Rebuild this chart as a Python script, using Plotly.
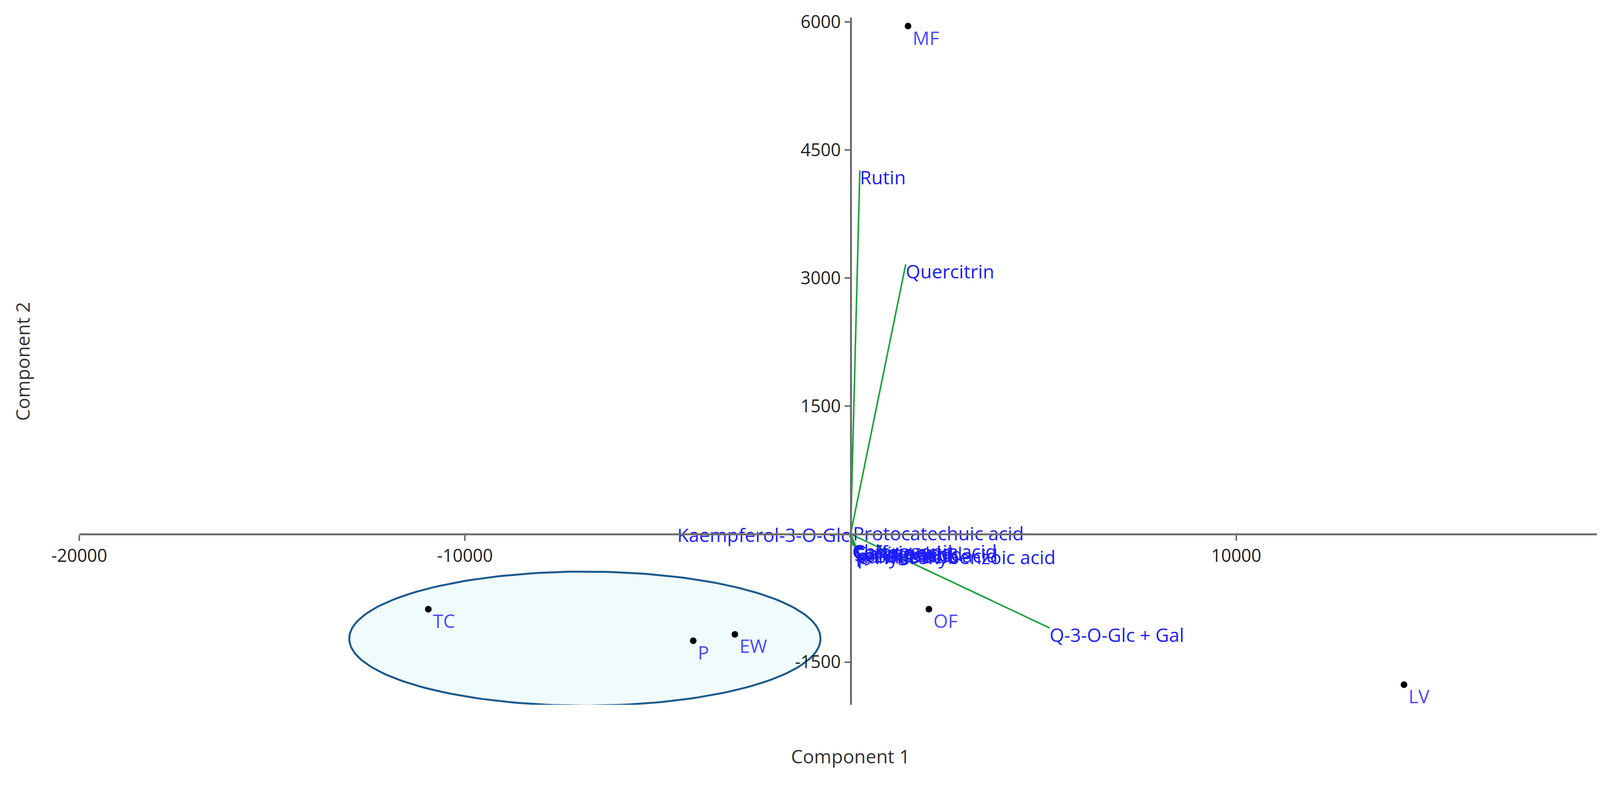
import plotly.graph_objects as go
import numpy as np

# Sample scores
samples = ["MF", "TC", "P", "EW", "OF", "LV"]
sx = [1490, -10950, -4080, -3000, 2030, 14350]
sy = [5950, -880, -1250, -1175, -880, -1765]

# Loadings (biplot vectors)
load_names = ["Rutin", "Quercitrin", "Q-3-O-Glc + Gal", "Kaempferol-3-O-Glc", "Protocatechuic acid",
               "Chlorogenic acid", "Caffeic acid", "Gallic acid", "Syringic acid",
               "Ferulic acid", "p-Coumaric acid", "Vanillic acid", "p-Hydroxybenzoic acid"]
lx = [240, 1430, 5160, -20, 60, 40, 60, 80, 100, 120, 140, 160, 180]
ly = [4260, 3160, -1100, -40, -20, -120, -130, -140, -150, -160, -170, -180, -190]

# Group ellipse
ell_cx, ell_cy, ell_rx, ell_ry = -6890, -1225, 6110, 785

FONT = "Open Sans"
fig = go.Figure()

t = np.linspace(0, 2*np.pi, 200)
fig.add_trace(go.Scatter(x=ell_cx + ell_rx*np.cos(t), y=ell_cy + ell_ry*np.sin(t), mode="lines",
                         fill="toself", fillcolor="#f0fbfb", line=dict(color="#1d5a8c", width=5),
                         hoverinfo="skip", showlegend=False))

for n, x, y in zip(load_names, lx, ly):
    fig.add_trace(go.Scatter(x=[0, x], y=[0, y], mode="lines", line=dict(color="#1aa33a", width=4),
                             showlegend=False, hoverinfo="skip"))

pos = ["bottom right"] * len(load_names)
pos[load_names.index("Kaempferol-3-O-Glc")] = "middle left"
pos[load_names.index("Protocatechuic acid")] = "middle right"
pos[load_names.index("Rutin")] = "bottom right"
pos[load_names.index("Quercitrin")] = "bottom right"
fig.add_trace(go.Scatter(x=lx, y=ly, mode="text", text=load_names, textposition=pos,
                         textfont=dict(family=FONT, size=48, color="#1c1cff"), showlegend=False))

fig.add_trace(go.Scatter(x=sx, y=sy, mode="markers+text", text=samples, textposition="bottom right",
                         marker=dict(color="black", size=17),
                         textfont=dict(family=FONT, size=48, color="#4a4aff"), showlegend=False))

yr = [-2000, 6050]
fig.update_layout(
    width=4199, height=2013, paper_bgcolor="white", plot_bgcolor="white",
    margin=dict(l=195, r=55, t=37, b=216),
    xaxis=dict(range=[-20000, 20000], tickvals=[-20000, -10000, 10000],
               ticktext=["-20000", "-10000", "10000"], showgrid=False, zeroline=False,
               showline=True, linecolor="#6e6e6e", linewidth=5, ticks="outside", ticklen=14, tickwidth=4,
               tickcolor="#6e6e6e", anchor="free", position=(0 - yr[0])/(yr[1]-yr[0]),
               tickfont=dict(family=FONT, size=45, color="#222")),
    yaxis=dict(range=yr, tickvals=[-1500, 1500, 3000, 4500, 6000],
               ticktext=["-1500", "1500", "3000", "4500", "6000"], showgrid=False, zeroline=False,
               showline=True, linecolor="#6e6e6e", linewidth=5, ticks="outside", ticklen=14, tickwidth=4,
               tickcolor="#6e6e6e", anchor="free", position=0.5,
               tickfont=dict(family=FONT, size=45, color="#222")),
    annotations=[
        dict(text="Component 1", x=0.5, y=-0.055, xref="paper", yref="paper", showarrow=False,
             font=dict(family=FONT, size=48, color="#333"), yanchor="top"),
        dict(text="Component 2", x=-0.037, y=0.5, xref="paper", yref="paper", showarrow=False,
             textangle=-90, font=dict(family=FONT, size=48, color="#333"), xanchor="center"),
    ],
)
fig.write_html("out.html")
